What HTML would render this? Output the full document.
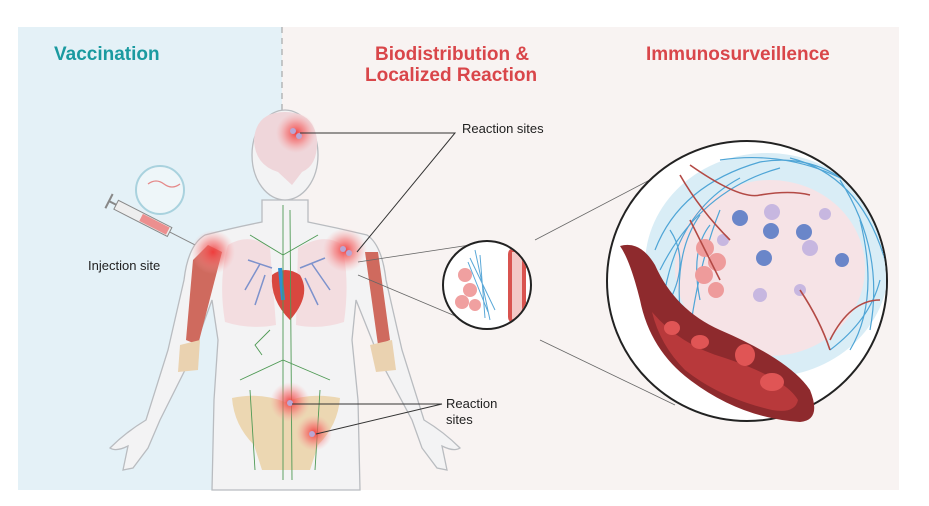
<!DOCTYPE html>
<html><head><meta charset="utf-8"><style>
html,body{margin:0;padding:0;background:#fff;}
svg{display:block;}
text{font-family:"Liberation Sans",sans-serif;}
</style></head><body>
<svg width="929" height="506" viewBox="0 0 929 506" xmlns="http://www.w3.org/2000/svg">
<defs>
<radialGradient id="glow"><stop offset="0" stop-color="#f03a3a" stop-opacity="0.95"/><stop offset="0.5" stop-color="#f56a6a" stop-opacity="0.55"/><stop offset="1" stop-color="#f8a0a0" stop-opacity="0"/></radialGradient>
<clipPath id="bigc"><circle cx="747" cy="281" r="139"/></clipPath>
<clipPath id="smc"><circle cx="487" cy="285" r="43"/></clipPath>
</defs>
<rect x="18" y="27" width="264" height="463" fill="#e4f1f7"/>
<rect x="282" y="27" width="617" height="463" fill="#f8f3f2"/>
<line x1="282" y1="27" x2="282" y2="490" stroke="#999" stroke-dasharray="6,5" stroke-width="1"/>
<text x="54" y="60" font-size="19" font-weight="bold" fill="#1a9aa0">Vaccination</text>
<text x="375" y="60" font-size="19" font-weight="bold" fill="#d9464a">Biodistribution &amp;</text>
<text x="365" y="81" font-size="19" font-weight="bold" fill="#d9464a">Localized Reaction</text>
<text x="646" y="60" font-size="19" font-weight="bold" fill="#d9464a">Immunosurveillence</text>

<!-- body -->
<g stroke="#b9bcc0" stroke-width="1.3" fill="#f3f3f4">
<path d="M262,200 L262,222 Q232,228 205,235 Q188,245 184,280 L168,350 L146,420 Q126,432 110,448 Q116,452 128,446 L123,470 L133,468 L148,448 L160,420 L190,360 L212,300 L218,340 L214,400 L212,490 L360,490 L358,400 L352,340 L356,300 L380,360 L412,420 L422,448 L437,468 L447,470 L442,446 Q454,452 460,448 Q444,432 424,420 L402,350 L386,280 Q382,245 367,235 Q338,228 308,222 L308,200 Z"/>
<ellipse cx="285" cy="155" rx="33" ry="45"/>
</g>
<path d="M254,140 Q256,112 285,112 Q314,112 317,140 Q318,165 302,172 L292,185 L278,172 Q255,165 254,140Z" fill="#efd6da"/>
<path d="M228,245 Q250,232 270,248 L276,325 Q250,330 225,322 Q218,280 228,245Z" fill="#f3dde0"/>
<path d="M298,248 Q325,232 342,245 Q350,280 344,322 Q320,330 296,325Z" fill="#f3dde0"/>
<g stroke="#7d92cc" stroke-width="1.5" fill="none">
<path d="M272,268 L248,260 M260,264 L245,290 M265,275 L255,305"/>
<path d="M300,268 L325,258 M312,264 L330,290 M305,278 L318,305"/>
</g>
<path d="M272,275 Q285,265 300,275 Q312,295 290,320 Q270,300 272,275Z" fill="#d8473f"/>
<path d="M280,268 L283,300" stroke="#2f8fd0" stroke-width="4"/>
<path d="M193,260 L208,245 L222,252 L198,345 L186,340Z" fill="#cf6a5e"/>
<path d="M365,252 L378,252 L390,340 L378,345Z" fill="#cf6a5e"/>
<path d="M180,345 L200,340 L198,370 L178,372Z" fill="#ead2b0"/>
<path d="M370,345 L392,340 L396,370 L376,372Z" fill="#ead2b0"/>
<path d="M232,398 Q260,392 285,402 Q310,392 340,398 Q338,425 318,445 L310,470 L262,470 L254,445 Q234,425 232,398Z" fill="#ecd7b2"/>
<g stroke="#4f9a55" stroke-width="0.9" fill="none">
<path d="M283,205 L283,480 M290,210 L292,480 M250,235 L283,255 L318,235 M240,380 L283,360 L330,380 M250,390 L255,470 M320,390 L315,470 M270,330 L255,345 L262,355"/>
</g>
<g fill="url(#glow)">
<circle cx="296" cy="133" r="20"/>
<circle cx="213" cy="252" r="22"/>
<circle cx="345" cy="250" r="22"/>
<circle cx="290" cy="402" r="20"/>
<circle cx="314" cy="433" r="18"/>
</g>
<g fill="#b9a6d4"><circle cx="293" cy="131" r="3"/><circle cx="299" cy="136" r="3"/><circle cx="343" cy="249" r="3"/><circle cx="349" cy="253" r="3"/><circle cx="290" cy="403" r="3"/><circle cx="312" cy="434" r="3"/></g>

<!-- syringe -->
<circle cx="160" cy="190" r="24" fill="#eef6f9" stroke="#a9d2de" stroke-width="2"/>
<path d="M148,184 q8,-6 16,0 t16,0" stroke="#e58a8a" fill="none" stroke-width="1.3"/>
<g transform="rotate(27 150 222)">
<rect x="112" y="217" width="60" height="10" fill="#eee" stroke="#888" stroke-width="1"/>
<rect x="140" y="218" width="30" height="8" fill="#ec8f8f"/>
<line x1="104" y1="222" x2="112" y2="222" stroke="#888" stroke-width="2"/>
<line x1="104" y1="214" x2="104" y2="230" stroke="#888" stroke-width="2"/>
<line x1="172" y1="222" x2="200" y2="222" stroke="#888" stroke-width="1"/>
</g>
<text x="88" y="270" font-size="13" fill="#222">Injection site</text>

<!-- labels and leaders -->
<g stroke="#333" stroke-width="1" fill="none">
<path d="M300,133 L455,133 L357,252"/>
<path d="M292,404 L442,404 M442,404 L316,434"/>
</g>
<text x="462" y="133" font-size="13" fill="#222">Reaction sites</text>
<text x="446" y="408" font-size="13" fill="#222">Reaction</text>
<text x="446" y="424" font-size="13" fill="#222">sites</text>
<g stroke="#666" stroke-width="0.8">
<line x1="358" y1="262" x2="470" y2="245"/>
<line x1="358" y1="275" x2="460" y2="318"/>
<line x1="535" y1="240" x2="665" y2="172"/>
<line x1="540" y1="340" x2="675" y2="405"/>
</g>

<!-- small circle -->
<circle cx="487" cy="285" r="44" fill="#fff" stroke="#222" stroke-width="2"/>
<g clip-path="url(#smc)">
<g fill="#f0a0a0"><circle cx="465" cy="275" r="7"/><circle cx="470" cy="290" r="7"/><circle cx="462" cy="302" r="7"/><circle cx="475" cy="305" r="6"/></g>
<path d="M475,250 L490,320 M480,255 L485,318 M470,258 L495,310 M468,262 L488,312" stroke="#5aa8d8" stroke-width="1"/>
<rect x="508" y="248" width="18" height="75" rx="6" fill="#d9534f"/>
<rect x="512" y="252" width="10" height="67" fill="#f3c8c6"/>
</g>

<!-- big circle -->
<circle cx="747" cy="281" r="140" fill="#fff" stroke="#222" stroke-width="2"/>
<g clip-path="url(#bigc)">
<ellipse cx="767" cy="265" rx="122" ry="112" fill="#d9edf6"/>
<ellipse cx="770" cy="268" rx="95" ry="88" fill="#f6e3e6"/>
<g stroke="#4fa5d6" stroke-width="1.2" fill="none">
<path d="M655,250 Q680,185 760,162 Q830,150 880,215"/>
<path d="M665,290 Q680,210 740,178 M840,180 Q885,250 870,330"/>
<path d="M690,330 Q700,260 720,210 M790,158 Q860,175 885,260"/>
<path d="M660,270 Q700,190 780,168 M720,160 Q800,148 870,195"/>
<path d="M680,310 Q675,250 700,215 M860,220 Q880,300 850,350 M700,300 Q690,250 710,225"/>
<path d="M670,300 Q690,260 670,230 M830,350 Q870,320 880,280"/>
</g>
<g fill="#6a86c9"><circle cx="740" cy="218" r="8"/><circle cx="771" cy="231" r="8"/><circle cx="804" cy="232" r="8"/><circle cx="764" cy="258" r="8"/><circle cx="842" cy="260" r="7"/></g>
<g fill="#c7b7e0"><circle cx="772" cy="212" r="8"/><circle cx="810" cy="248" r="8"/><circle cx="825" cy="214" r="6"/><circle cx="760" cy="295" r="7"/><circle cx="800" cy="290" r="6"/><circle cx="723" cy="240" r="6"/></g>
<g fill="#ee9b9b"><circle cx="705" cy="248" r="9"/><circle cx="717" cy="262" r="9"/><circle cx="704" cy="275" r="9"/><circle cx="716" cy="290" r="8"/></g>
<g stroke="#b34a45" stroke-width="1.6" fill="none"><path d="M680,175 Q700,210 730,240 M690,165 Q740,200 760,195 Q790,190 810,195 M830,340 Q850,300 880,300 M800,290 Q820,320 830,350 M690,220 Q710,260 720,280"/></g>
</g>
<path d="M620,246 Q640,240 655,265 Q675,310 720,330 Q790,360 810,390 Q822,420 800,422 Q740,418 690,380 Q650,350 640,300 Q630,260 620,246Z" fill="#8e2a2d"/>
<path d="M652,312 Q680,345 725,358 Q785,378 798,400 Q795,414 772,410 Q720,398 685,370 Q660,345 652,312Z" fill="#b8393b"/>
<g fill="#e05555"><ellipse cx="672" cy="328" rx="8" ry="7"/><ellipse cx="700" cy="342" rx="9" ry="7"/><ellipse cx="745" cy="355" rx="10" ry="11"/><ellipse cx="772" cy="382" rx="12" ry="9"/></g>
</svg>
</body></html>
